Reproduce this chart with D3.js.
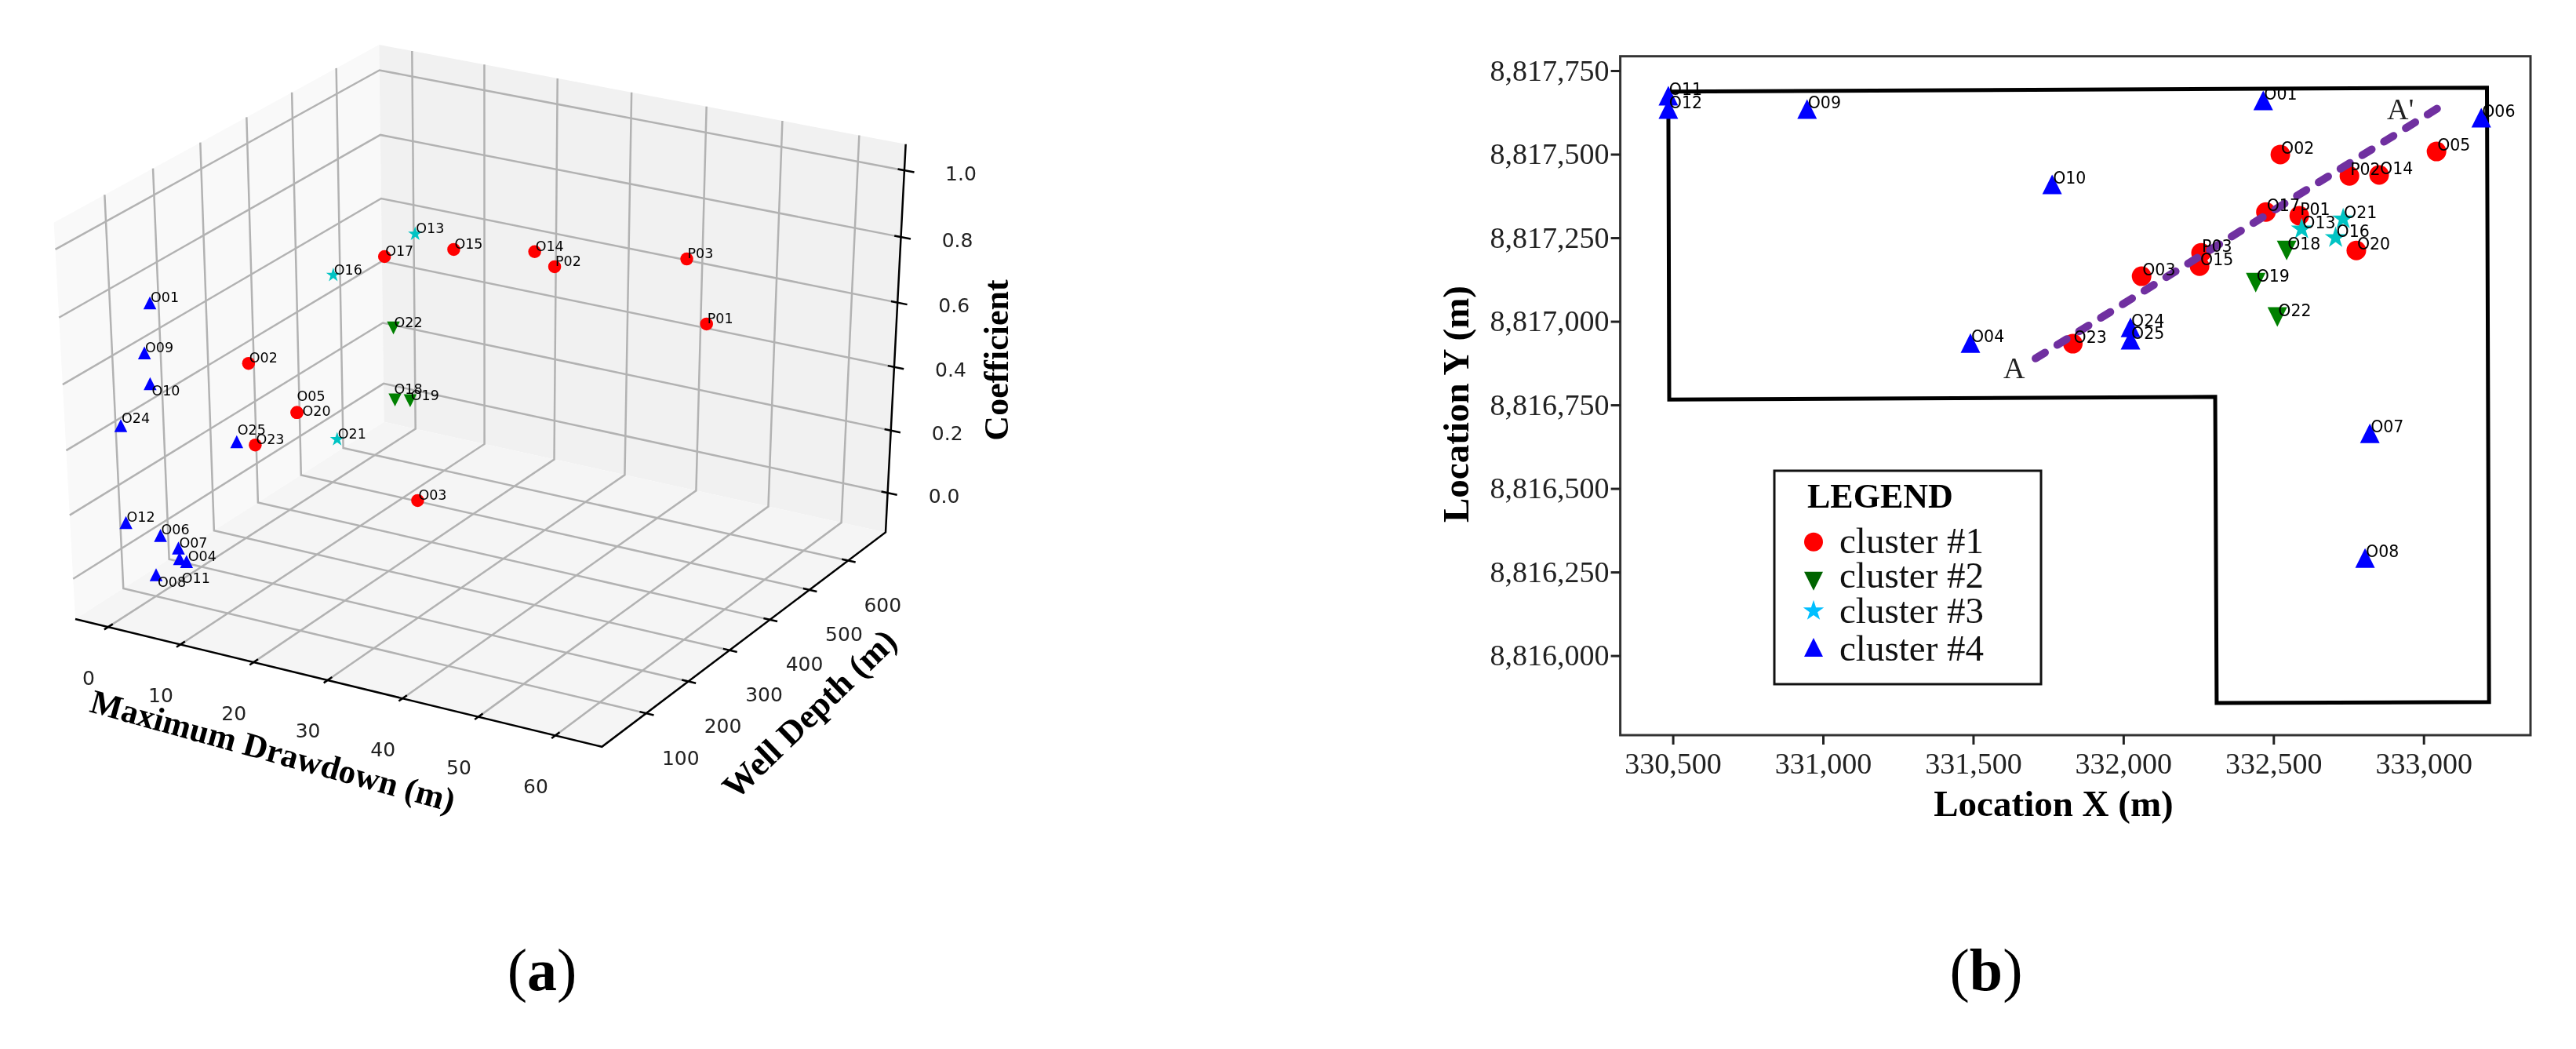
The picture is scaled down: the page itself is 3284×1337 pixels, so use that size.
<!DOCTYPE html>
<html><head><meta charset="utf-8">
<style>html,body{margin:0;background:#fff}svg{display:block;filter:blur(0.6px)}</style>
<script src="https://cdn.jsdelivr.net/npm/d3@7"></script></head>
<body><svg id="c" width="3284" height="1337"></svg>
<script>
// ---------- panel (a) data ----------
const wellsA    = ["O13","O17","O15","O14","P02","P03","P01","O16","O22","O01","O09","O02","O10","O18","O19","O05","O20","O21","O24","O25","O23","O03","O12","O06","O07","O11","O04","O08"];
const drawdownA = [16.9,12.7,22.1,32.9,31.6,49.0,51.8,5.6,13.8,0.9,1.2,4.3,1.8,13.9,16.0,10.8,10.8,5.7,-0.2,6.2,6.5,27.1,0.7,2.6,4.1,4.0,4.7,3.9];
const depthA    = [420,420,420,420,490,490,490,420,420,100,80,250,80,420,420,250,250,420,46,190,225,250,34,76,90,93,97,44];
const coefA     = [.807,.719,.784,.827,.719,.823,.640,.629,.504,.785,.653,.492,.563,.279,.287,.372,.372,.112,.455,.311,.271,.181,.171,.102,.057,.020,.011,.015];
const clusterA  = [3,1,1,1,1,1,1,3,2,4,4,1,4,2,2,1,1,3,4,4,1,1,4,4,4,4,4,4];
const xTicksA = [0,10,20,30,40,50,60];
const yTicksA = [100,200,300,400,500,600];
const zTicksA = [0,0.2,0.4,0.6,0.8,1.0];
const xLimA = [-4.59,66], yLimA = [-2.7,698.7], zLimA = [-0.128,1.078];
// ---------- panel (b) data ----------
const wellsB = ["O01","O02","P02","O14","O05","O06","O10","O17","P01","O20","P03","O15","O03","O23","O21","O13","O16","O18","O19","O22","O24","O25","O04","O07","O08","O11","O12","O09"];
const eastB  = [332466,332523,332753,332852,333043,333192,331763,332475,332586,332776,332259,332254,332061,331832,332732,332594,332707,332544,332441,332513,332024,332024,331491,332821,332805,330485,330485,330947];
const northB = [8817661,8817499,8817435,8817438,8817508,8817609,8817410,8817327,8817316,8817212,8817205,8817165,8817135,8816933,8817306,8817276,8817250,8817212,8817116,8817013,8816982,8816945,8816935,8816665,8816292,8817675,8817635,8817635];
const clusterB = [4,1,1,1,1,4,4,1,1,1,1,1,1,1,3,3,3,2,2,2,4,4,4,4,4,4,4,4];
const boundaryEast  = [330485,330488,332306,332311,333218,333211,330485];
const boundaryNorth = [8817687,8816766,8816774,8815858,8815861,8817699,8817687];
const sectionEast = [331708,333059], sectionNorth = [8816889,8817644];
const xTicksB = [330500,331000,331500,332000,332500,333000];
const yTicksB = [8816000,8816250,8816500,8816750,8817000,8817250,8817500,8817750];
const legendLabels = ["cluster #1","cluster #2","cluster #3","cluster #4"];

const svg = d3.select("#c");
const SERIF="'Liberation Serif',serif", SANS="'DejaVu Sans',sans-serif";
const clusterColor={1:"#ff0000",2:"#008000",3:"#00c4c4",4:"#0000ff"};
const legendColor={1:"#ff0000",2:"#006400",3:"#00bfff",4:"#0000ff"};
const triUp={draw(c,s){const r=Math.sqrt(s)/2;c.moveTo(0,-r);c.lineTo(r,r);c.lineTo(-r,r);c.closePath();}};
const triDown={draw(c,s){const r=Math.sqrt(s)/2;c.moveTo(0,r);c.lineTo(r,-r);c.lineTo(-r,-r);c.closePath();}};
function marker(cl,k){
  if(cl===1) return d3.symbol(d3.symbolCircle,Math.PI*k*k/4)();
  if(cl===2) return d3.symbol(triDown,k*k)();
  if(cl===3) return d3.symbol(d3.symbolStar,(k*0.58)*(k*0.58)/0.8908)();
  return d3.symbol(triUp,k*k)();
}

// ========== PANEL (a): matplotlib-style 3D projection ==========
const elev=30*Math.PI/180, azim=-60*Math.PI/180, dist=10;
const n=[Math.cos(elev)*Math.cos(azim),Math.cos(elev)*Math.sin(azim),Math.sin(elev)];
const uu=[-n[1],n[0],0].map(v=>v/Math.hypot(n[0],n[1]));
const vv=[n[1]*uu[2]-n[2]*uu[1],n[2]*uu[0]-n[0]*uu[2],n[0]*uu[1]-n[1]*uu[0]];
const dot=(a,b)=>a[0]*b[0]+a[1]*b[1]+a[2]*b[2];
function cube(u,v,w){const q=[u-.5,v-.5,w-.5];const zc=dist-dot(n,q);return [dot(uu,q)/zc,dot(vv,q)/zc];}
const sxScale=d3.scaleLinear().domain([cube(0,0,0)[0],cube(1,1,0)[0]]).range([96,1129]);
const syScale=d3.scaleLinear().domain([cube(0,0,0)[1],cube(0,1,1)[1]]).range([789,57]);
const xS=d3.scaleLinear().domain(xLimA).range([0,1]);
const yS=d3.scaleLinear().domain(yLimA).range([0,1]);
const zS=d3.scaleLinear().domain(zLimA).range([0,1]);
function P(x,y,z){const p=cube(xS(x),yS(y),zS(z));return [sxScale(p[0]),syScale(p[1])];}
const [x0,x1]=xLimA,[y0,y1]=yLimA,[z0,z1]=zLimA;
const gA=svg.append("g");
const poly=pts=>"M"+pts.map(p=>P(...p).join(",")).join("L")+"Z";
const line=pts=>"M"+pts.map(p=>P(...p).join(",")).join("L");
gA.append("path").attr("d",poly([[x0,y0,z0],[x0,y1,z0],[x0,y1,z1],[x0,y0,z1]])).attr("fill","#f9f9f9");
gA.append("path").attr("d",poly([[x0,y1,z0],[x1,y1,z0],[x1,y1,z1],[x0,y1,z1]])).attr("fill","#f1f1f1");
gA.append("path").attr("d",poly([[x0,y0,z0],[x1,y0,z0],[x1,y1,z0],[x0,y1,z0]])).attr("fill","#f5f5f5");
const grid=gA.append("g").attr("fill","none").attr("stroke","#b2b2b2").attr("stroke-width",2.5);
xTicksA.forEach(t=>grid.append("path").attr("d",line([[t,y0,z0],[t,y1,z0],[t,y1,z1]])));
yTicksA.forEach(t=>grid.append("path").attr("d",line([[x1,t,z0],[x0,t,z0],[x0,t,z1]])));
zTicksA.forEach(t=>grid.append("path").attr("d",line([[x0,y0,t],[x0,y1,t],[x1,y1,t]])));
const ax=gA.append("g").attr("fill","none").attr("stroke","#000").attr("stroke-width",2.5);
ax.append("path").attr("d",line([[x0,y0,z0],[x1,y0,z0],[x1,y1,z0],[x1,y1,z1]]));
const dx=x1-x0,dy=y1-y0;
xTicksA.forEach(t=>ax.append("path").attr("d",line([[t,y0+dy*.014,z0],[t,y0-dy*.012,z0]])));
yTicksA.forEach(t=>ax.append("path").attr("d",line([[x1-dx*.012,t,z0],[x1+dx*.014,t,z0]])));
zTicksA.forEach(t=>ax.append("path").attr("d",line([[x1-dx*.012,y1,t],[x1+dx*.018,y1,t]])));
const tl=(txt,p,ox,oy)=>gA.append("text").text(txt).attr("x",p[0]+ox).attr("y",p[1]+oy).attr("text-anchor","middle").attr("dominant-baseline","central").attr("font-family",SANS).attr("font-size",25).attr("fill","#222");
xTicksA.forEach(t=>tl(String(t),P(t,y0,z0),-25,65));
yTicksA.forEach(t=>tl(String(t),P(x1,t,z0),44,57));
zTicksA.forEach(t=>tl(t.toFixed(1),P(x1,y1,t),72,4));
const title=(txt,x,y,rot,fs)=>svg.append("text").text(txt).attr("transform",`translate(${x},${y}) rotate(${rot})`).attr("text-anchor","middle").attr("dominant-baseline","central").attr("font-family",SERIF).attr("font-weight","bold").attr("font-size",fs).attr("fill","#000");
title("Maximum Drawdown (m)",348,957,15.5,43);
title("Well Depth (m)",1032,910,-44,44);
title("Coefficient",1270,459,-90,44);
const ptsA=gA.append("g");
wellsA.forEach((w,i)=>{
  const p=P(drawdownA[i],depthA[i],coefA[i]);
  ptsA.append("path").attr("d",marker(clusterA[i],16.5)).attr("transform",`translate(${p})`).attr("fill",clusterColor[clusterA[i]]);
});
const labOffset={O08:[2,17],O10:[2,16],O11:[3,32],O20:[7,5],O05:[0,-14],O04:[2,0],O19:[1,0],O18:[-1,-7],O25:[1,-8],O24:[1,-2]};
wellsA.forEach((w,i)=>{
  const p=P(drawdownA[i],depthA[i],coefA[i]);
  const o=labOffset[w]||[1,0];
  ptsA.append("text").text(w).attr("x",p[0]+o[0]).attr("y",p[1]-1+o[1]).attr("font-family",SANS).attr("font-size",17.5).attr("fill","#000");
});

// ========== PANEL (b) ==========
const X=d3.scaleLinear().domain([330325,333356]).range([2065.6,3226]);
const Y=d3.scaleLinear().domain([8815762,8817793]).range([937,71.7]);
const gB=svg.append("g");
gB.append("rect").attr("x",2065.6).attr("y",71.7).attr("width",3226-2065.6).attr("height",937-71.7).attr("fill","none").attr("stroke","#333").attr("stroke-width",3);
const fmt=d3.format(",");
const xAxis=d3.axisBottom(X).tickValues(xTicksB).tickFormat(fmt).tickSizeOuter(0).tickSize(12).tickPadding(10);
const yAxis=d3.axisLeft(Y).tickValues(yTicksB).tickFormat(fmt).tickSizeOuter(0).tickSize(12).tickPadding(2);
const styleAxis=s=>{s.select(".domain").remove();s.selectAll("line").attr("stroke","#222").attr("stroke-width",3);s.selectAll("text").attr("font-family",SERIF).attr("font-size",38).attr("fill","#222");};
gB.append("g").attr("transform","translate(0,937)").call(xAxis).call(styleAxis);
gB.append("g").attr("transform","translate(2065.6,0)").call(yAxis).call(styleAxis);
title("Location X (m)",2618,1024,0,47);
title("Location Y (m)",1856,515,-90,47);
gB.append("path").attr("d",d3.line().x(d=>X(d[0])).y(d=>Y(d[1]))(boundaryEast.map((e,i)=>[e,boundaryNorth[i]]))).attr("fill","none").attr("stroke","#000").attr("stroke-width",5).attr("stroke-linejoin","miter");
const drawB=(i)=>gB.append("path").attr("d",marker(clusterB[i],25)).attr("transform",`translate(${X(eastB[i])},${Y(northB[i])})`).attr("fill",clusterColor[clusterB[i]]);
wellsB.forEach((w,i)=>{ if(clusterB[i]!==3) drawB(i); });
gB.append("line").attr("x1",X(sectionEast[0])).attr("y1",Y(sectionNorth[0])).attr("x2",X(sectionEast[1])).attr("y2",Y(sectionNorth[1])).attr("stroke","#7030a0").attr("stroke-width",10).attr("stroke-linecap","round").attr("stroke-dasharray","14 18.7");
wellsB.forEach((w,i)=>{ if(clusterB[i]===3) drawB(i); });
wellsB.forEach((w,i)=>{
  gB.append("text").text(w).attr("x",X(eastB[i])+1).attr("y",Y(northB[i])-1).attr("font-family",SANS).attr("font-size",20.5).attr("fill","#000");
});
const lbl=(t,x,y)=>gB.append("text").text(t).attr("x",x).attr("y",y).attr("font-family",SERIF).attr("font-size",38).attr("fill","#222");
lbl("A",2554,482);lbl("A'",3043,152);
// legend
const lg=gB.append("g");
lg.append("rect").attr("x",2262).attr("y",600).attr("width",340).attr("height",272).attr("fill","#fff").attr("stroke","#111").attr("stroke-width",3);
lg.append("text").text("LEGEND").attr("x",2304).attr("y",647).attr("font-family",SERIF).attr("font-weight","bold").attr("font-size",44);
const legMY=[690.7,740.7,778.6,825],legTY=[704.5,749,794,842];
legendLabels.forEach((t,i)=>{
  lg.append("path").attr("d",marker(i+1,24)).attr("transform",`translate(2312,${legMY[i]})`).attr("fill",legendColor[i+1]);
  lg.append("text").text(t).attr("x",2345).attr("y",legTY[i]).attr("font-family",SERIF).attr("font-size",47).attr("fill","#111");
});
// captions
const cap=(c,x)=>{const t=svg.append("text").attr("x",x).attr("y",1262).attr("text-anchor","middle").attr("font-family",SERIF).attr("font-size",76);t.append("tspan").text("(");t.append("tspan").text(c).attr("font-weight","bold");t.append("tspan").text(")");};
cap("a",691);cap("b",2532);
</script></body></html>
